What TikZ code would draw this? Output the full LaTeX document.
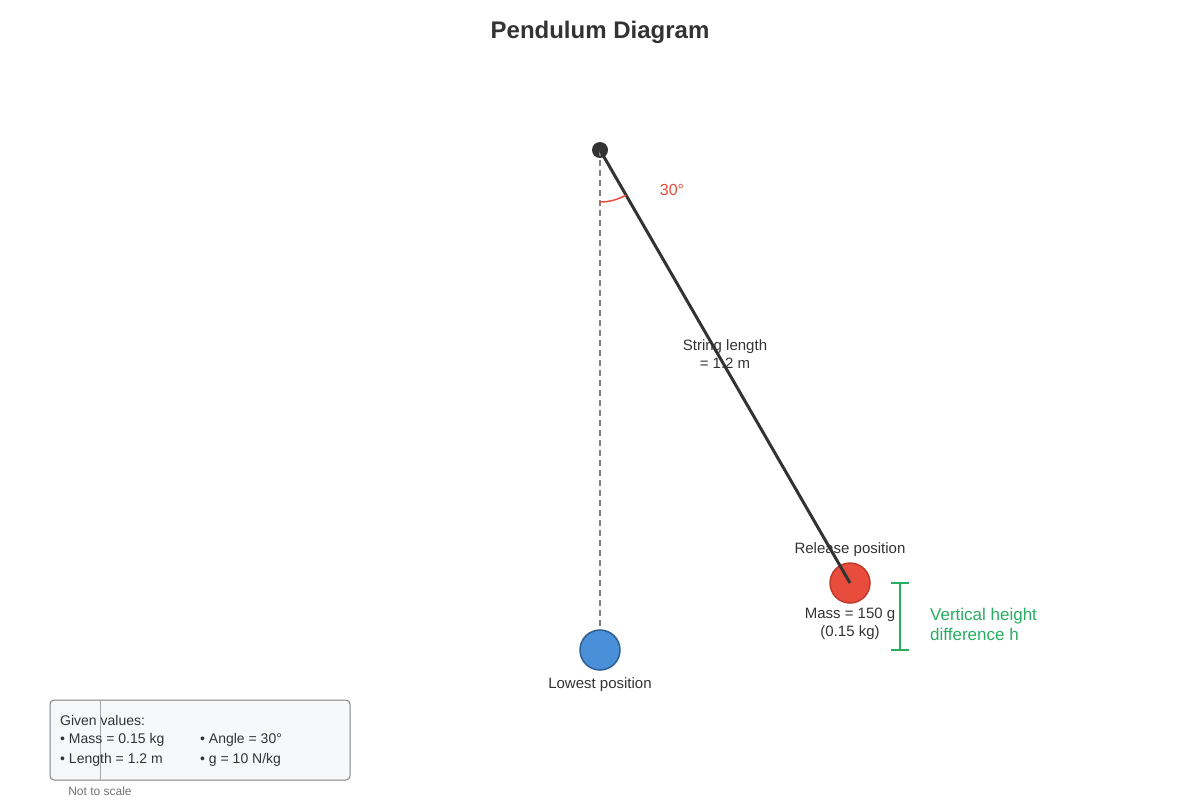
\documentclass[tikz,border=0pt]{standalone}
\usepackage{fontspec}
\setmainfont{Liberation Sans}
\definecolor{dark}{HTML}{333333}
\definecolor{redc}{HTML}{E74C3C}
\definecolor{redb}{HTML}{C0392B}
\definecolor{bluec}{HTML}{4A90D9}
\definecolor{blueb}{HTML}{2C5F93}
\definecolor{greenc}{HTML}{27AE60}
\definecolor{boxf}{HTML}{F7F8FA}
\begin{document}
\begin{tikzpicture}[x=1pt,y=-1pt,
  lbl/.style={text=dark,font=\fontsize{15}{18}\selectfont,align=center,inner sep=0},
  small/.style={text=dark,font=\fontsize{14}{17}\selectfont,anchor=west,inner sep=0},
  bob/.style={circle,minimum size=40pt,inner sep=0,line width=1.5pt}]
\useasboundingbox (0,0) rectangle (1200,800);
\node[text=dark,font=\bfseries\fontsize{24}{28}\selectfont] (title) at (600,32) {Pendulum Diagram};
\node[bob,fill=bluec,draw=blueb] (low) at (600,650) {};
\node[bob,fill=redc,draw=redb] (rel) at (850,583) {};
\node[circle,fill=dark,minimum size=16pt,inner sep=0] (pivot) at (600,150) {};
\coordinate (dashend) at (600,628);
\draw[gray,dashed,line width=1.2pt,dash pattern=on 6pt off 4pt] (pivot.center) -- (dashend);
\draw[dark,line width=3pt] (pivot.center) -- (rel.center);
\draw[redc,line width=1.5pt] (600,202) arc[start angle=90,end angle=60,radius=52];
\node[text=redc,font=\fontsize{16}{19}\selectfont] (ang) at (672,190) {30°};
\node[lbl] (sl) at (725,354) {String length\\= 1.2 m};
\node[lbl] (rp) at (850,550) {Release position};
\node[lbl] (ms) at (850,624) {Mass = 150 g\\(0.15 kg)};
\node[lbl] (lp) at (600,685) {Lowest position};
\coordinate (ht) at (900,583); \coordinate (hb) at (900,650);
\draw[greenc,line width=2pt] (ht) -- (hb) (891,583) -- (909,583) (891,650) -- (909,650);
\node[text=greenc,font=\fontsize{17}{20}\selectfont,align=left,anchor=west,inner sep=0] (vh) at (930,624) {Vertical height\\difference h};
\draw[gray,rounded corners=4pt,fill=boxf,line width=1pt] (50,700) rectangle (350,780);
\draw[gray!70,line width=1pt] (100,700) -- (100,780);
\node[small] (gv) at (60,720) {Given values:};
\node[small] (m) at (60,740) {• Mass = 0.15 kg};
\node[small] (a) at (200,740) {• Angle = 30°};
\node[small] (l) at (60,760) {• Length = 1.2 m};
\node[small] (g) at (200,760) {• g = 10 N/kg};
\node[text=gray!90!black,font=\fontsize{12}{14}\selectfont,inner sep=0] (nts) at (100,791) {Not to scale};
\end{tikzpicture}
\end{document}
